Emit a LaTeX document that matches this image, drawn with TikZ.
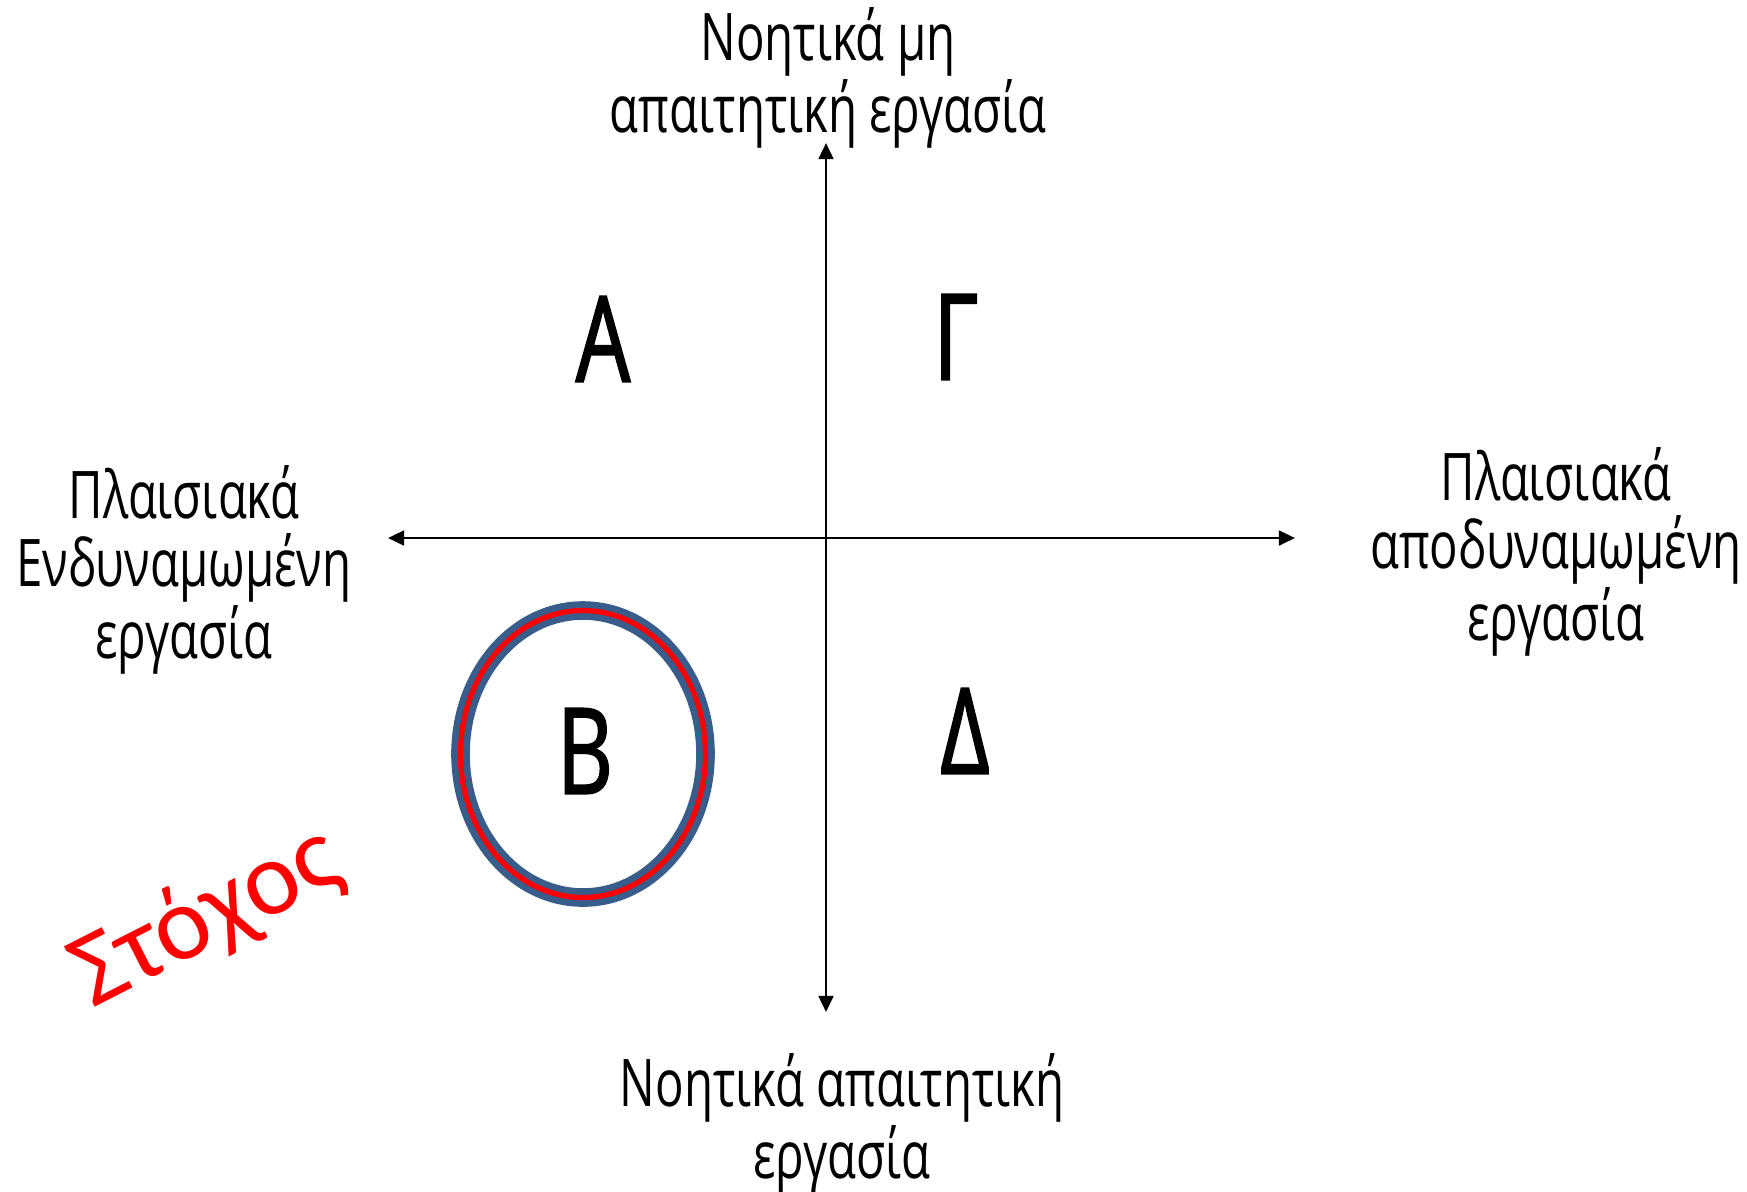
\documentclass[tikz,border=0pt]{standalone}
\usepackage{fontspec}
\usepackage{xcolor}
\usetikzlibrary{arrows.meta, shapes.geometric, positioning}
\setmainfont{Open Sans}
\newfontfamily\handfont[FakeStretch=0.72]{Open Sans}
\newfontfamily\letterfont[FakeStretch=0.72, FakeBold=1.5]{Open Sans}
\newfontfamily\goalfont{Carlito}
\definecolor{ringblue}{RGB}{56,93,138}
\definecolor{goalred}{RGB}{255,0,0}

\begin{document}
\begin{tikzpicture}[
    axis/.style={{Triangle[length=4.6pt,width=4.2pt]}-{Triangle[length=4.6pt,width=4.2pt]},
                 line width=0.8pt, black},
    axislabel/.style={align=center, inner sep=0pt,
                      font=\handfont\fontsize{18.7}{19.1}\selectfont},
    quadrant/.style={inner sep=0pt, font=\letterfont\fontsize{34}{34}\selectfont},
    goalring/.style={ellipse, draw=ringblue, line width=1.9pt, double=goalred,
                     double distance=1.5pt, minimum width=2.45cm, minimum height=2.87cm}
  ]
    \useasboundingbox (0,0) rectangle (17.47,-11.91);

    % axes
    \coordinate (leftend) at (3.88,-5.38);
    \coordinate (rightend) at (12.95,-5.38);
    \coordinate (topend) at (8.26,-1.43);
    \coordinate (bottomend) at (8.26,-10.12);
    \draw[axis] (leftend) -- (rightend);
    \draw[axis] (bottomend) -- (topend);

    \node[axislabel] (toplabel) at (8.28,-0.78) {Νοητικά μη\\απαιτητική εργασία};
    \node[axislabel] (bottomlabel) at (8.42,-11.24) {Νοητικά απαιτητική\\εργασία};
    \node[axislabel] (leftlabel) at (1.84,-5.70) {Πλαισιακά\\Ενδυναμωμένη\\εργασία};
    \node[axislabel] (rightlabel) at (15.56,-5.52) {Πλαισιακά\\αποδυναμωμένη\\εργασία};

    % quadrants
    \node[quadrant] (qa) at (6.03,-3.39) {Α};
    \node[quadrant] (qg) at (9.56,-3.37) {Γ};
    \node[goalring] (ring) at (5.83,-7.54) {};
    \node[quadrant] (qb) at (5.85,-7.51) {Β};
    \node[quadrant] (qd) at (9.65,-7.31) {Δ};

    \node[rotate=27, text=goalred, inner sep=0pt,
          font=\goalfont\fontsize{30}{30}\selectfont] (goal) at (2.07,-9.18) {Στόχος};
  \end{tikzpicture}
\end{document}
